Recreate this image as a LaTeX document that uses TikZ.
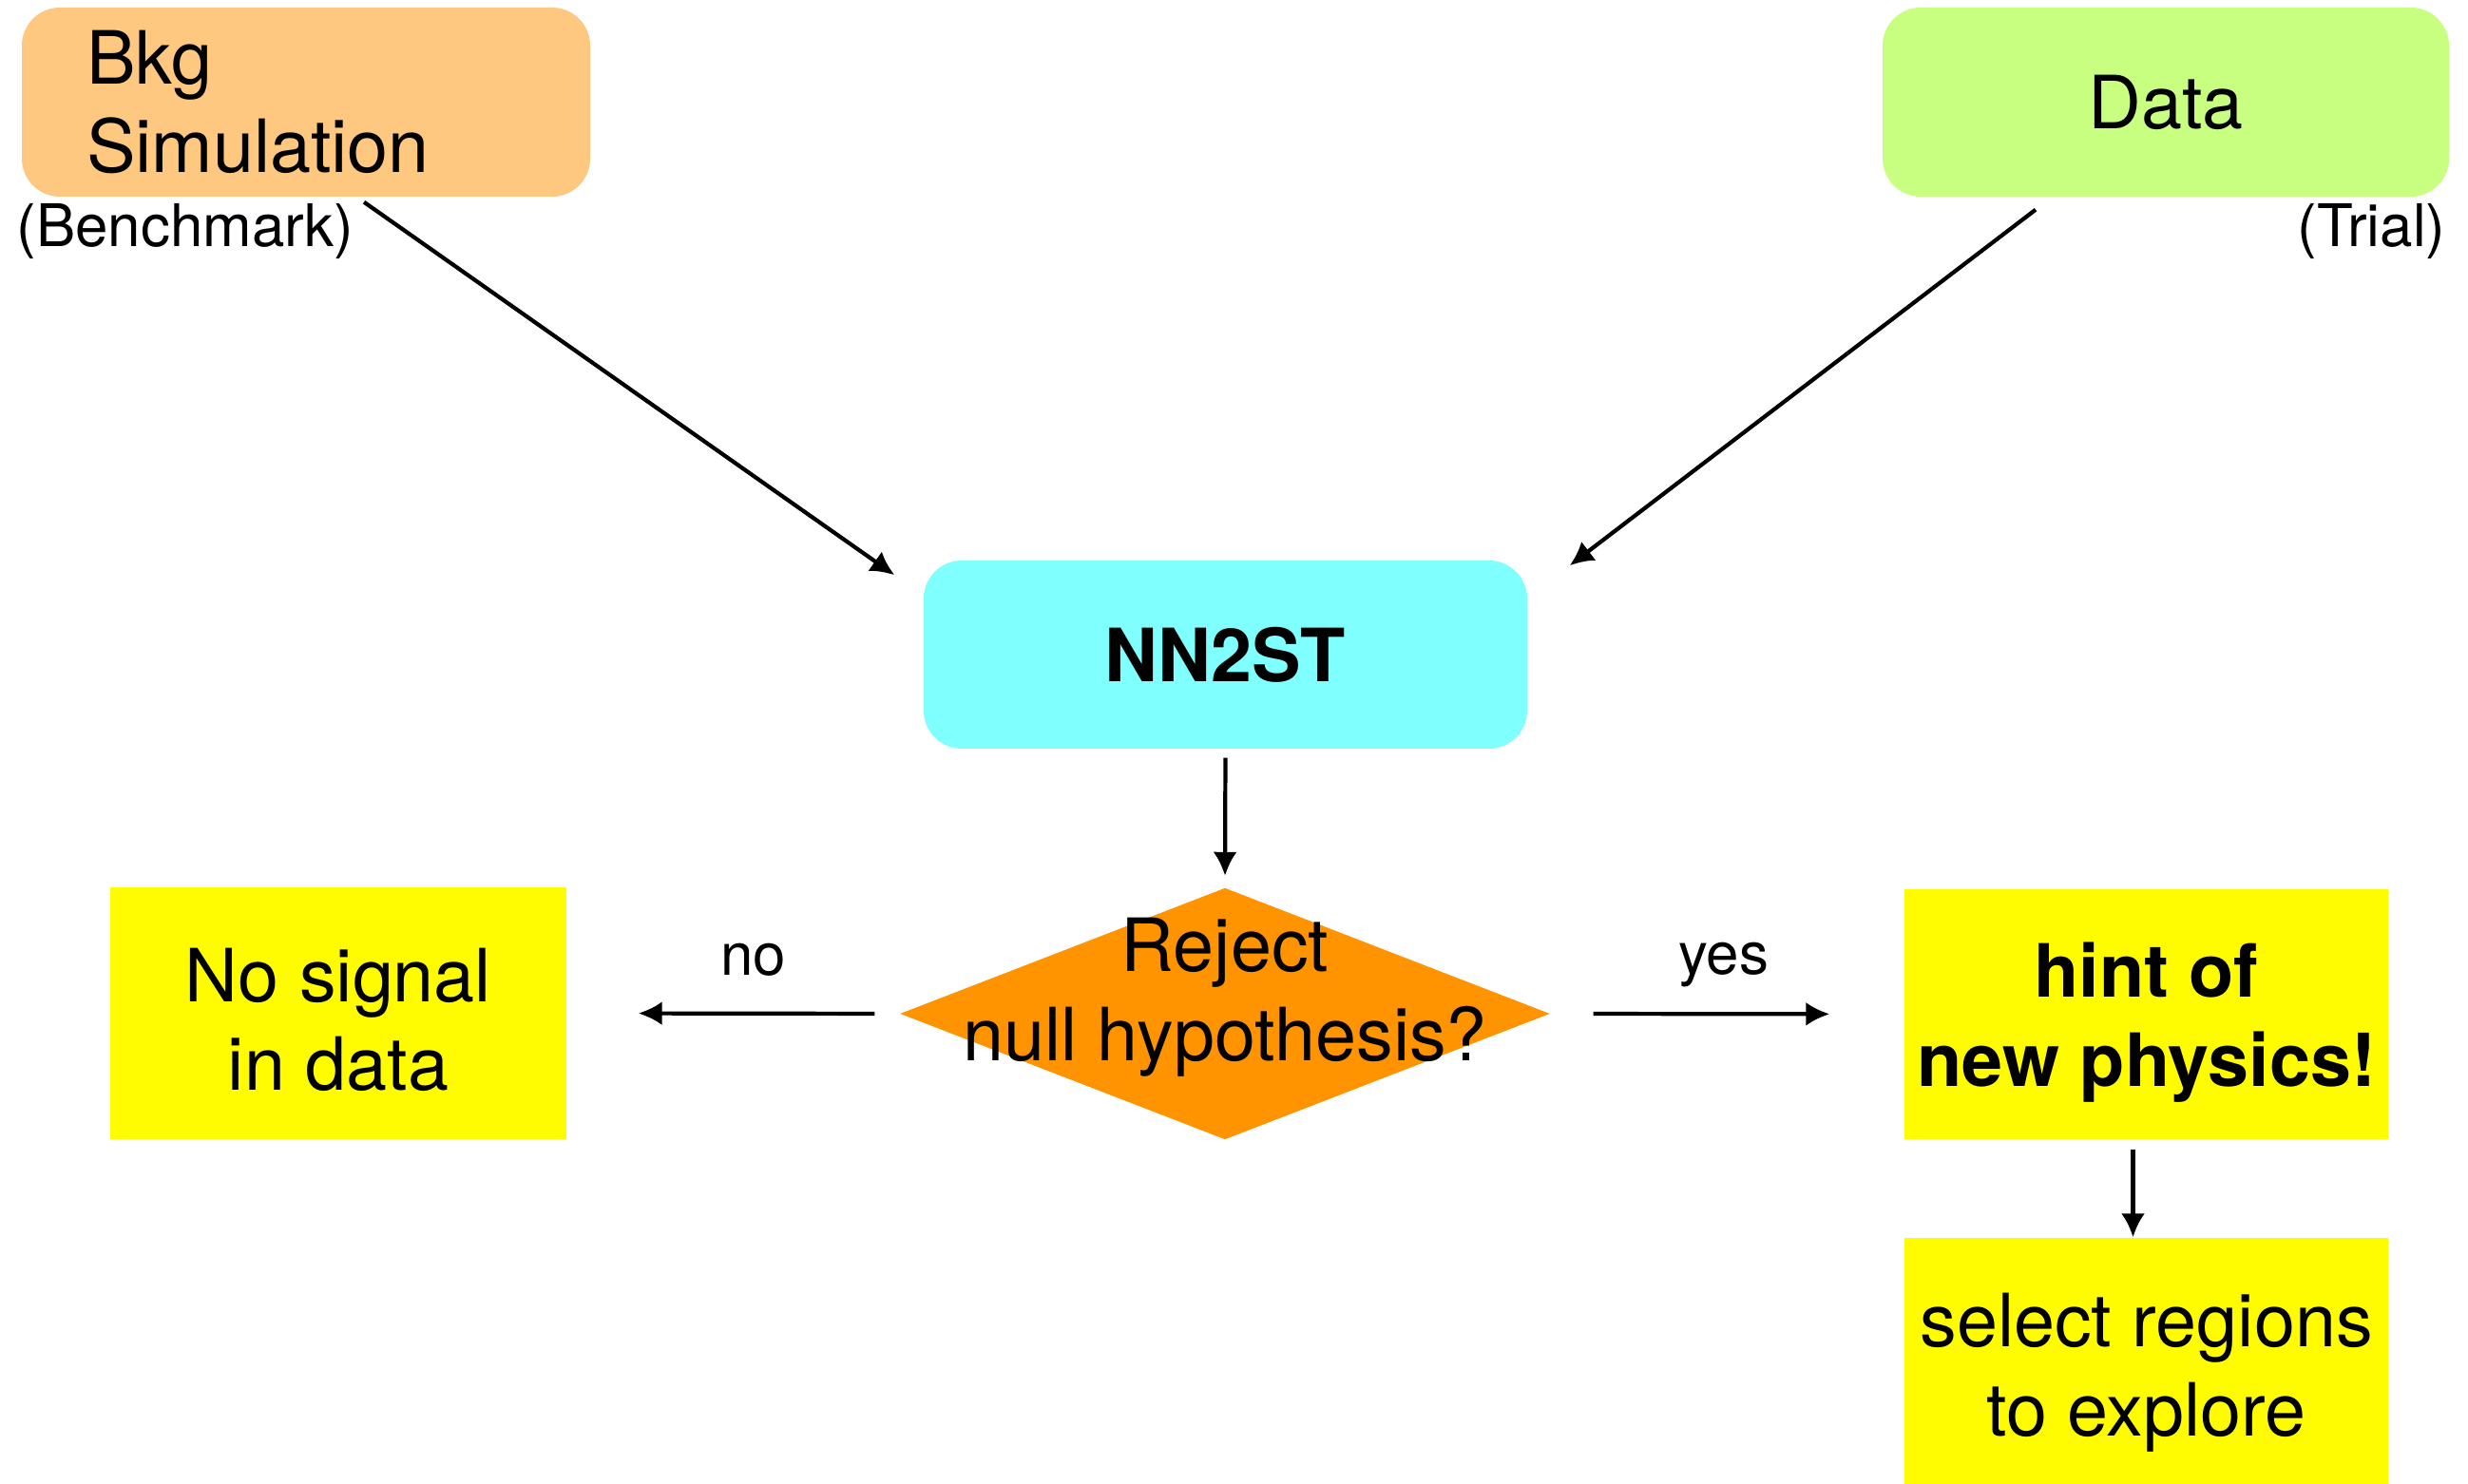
\documentclass[tikz,border=0pt]{standalone}
\usepackage{fontspec}
\setmainfont{TeX Gyre Heros}
\usetikzlibrary{shapes.geometric,arrows.meta,calc}

\definecolor{bkgorange}{RGB}{255,200,128}
\definecolor{datagreen}{RGB}{200,255,128}
\definecolor{nncyan}{RGB}{128,255,255}
\definecolor{decorange}{RGB}{255,147,0}
\definecolor{outyellow}{RGB}{255,251,0}

\tikzset{
  inbox/.style={rounded corners=0.4cm, inner sep=0pt, minimum height=1.99cm, align=center},
  outbox/.style={fill=outyellow, inner sep=0pt, minimum width=5.09cm, align=center},
  flow/.style={line width=1.2pt, -{Latex[length=0.25cm,width=0.25cm]}},
  big/.style={font=\fontsize{22}{26.7}\selectfont},
  bigbold/.style={font=\fontsize{22}{26.7}\selectfont\bfseries},
  small/.style={font=\fontsize{17.6}{21}\selectfont, inner sep=0pt},
}

\begin{document}
\begin{tikzpicture}
        \useasboundingbox (0,0) rectangle (25.97,15.62);

        % Inputs
        \node[inbox, big, fill=bkgorange, minimum width=5.98cm, text width=4.62cm, align=left] (bkg) at (3.22,14.545) {Bkg\\Simulation};
        \node[small, anchor=base west] (bench) at (0.17,13.02) {(Benchmark)};
        \node[inbox, big, fill=datagreen, minimum width=5.96cm] (data) at (22.79,14.545) {Data};
        \node[small, anchor=base east] (trial) at (25.74,13.02) {(Trial)};

        % Test
        \node[inbox, bigbold, fill=nncyan, minimum width=6.35cm, minimum height=1.98cm] (nn) at (12.895,8.73) {NN2ST};
        \node[diamond, fill=decorange, inner sep=0pt, minimum width=6.84cm, minimum height=2.65cm,
            label={[big, align=center, yshift=0.17cm]center:Reject\\null hypothesis?}] (dec) at (12.89,4.95) {};

        % Outcomes
        \node[outbox, big, minimum width=4.80cm, minimum height=2.65cm, text height=1.64cm] (nosig) at (3.56,4.955) {No signal\\in data};
        \node[outbox, bigbold, minimum height=2.63cm, text height=1.68cm] (hint) at (22.585,4.945) {hint of\\new physics!};
        \node[outbox, big, minimum height=2.59cm, text height=1.74cm] (sel) at (22.585,1.295) {select regions\\to explore};

        \draw[flow] ($(bkg.south)+(0.61,-0.05)$) -- ($(nn.north west)+(-0.30,-0.16)$);
        \draw[flow] ($(data.south)+(-1.37,-0.13)$) -- ($(nn.north east)+(0.44,-0.06)$);
        \draw[flow, shorten <=0.09cm, shorten >=0.12cm] (nn.south) -- (dec.north);
        \draw[flow, shorten <=0.26cm, shorten >=0.75cm] (dec.west) -- (nosig.east)
            node[small, pos=0.44, above=0.37cm] {no};
        \draw[flow, shorten <=0.45cm, shorten >=0.78cm] (dec.east) -- (hint.west)
            node[small, pos=0.49, above=0.26cm] {yes};
        \draw[flow, shorten <=0.1cm] ($(hint.south)+(-0.14,0)$) -- ($(sel.north)+(-0.14,0)$);

\end{tikzpicture}
\end{document}
